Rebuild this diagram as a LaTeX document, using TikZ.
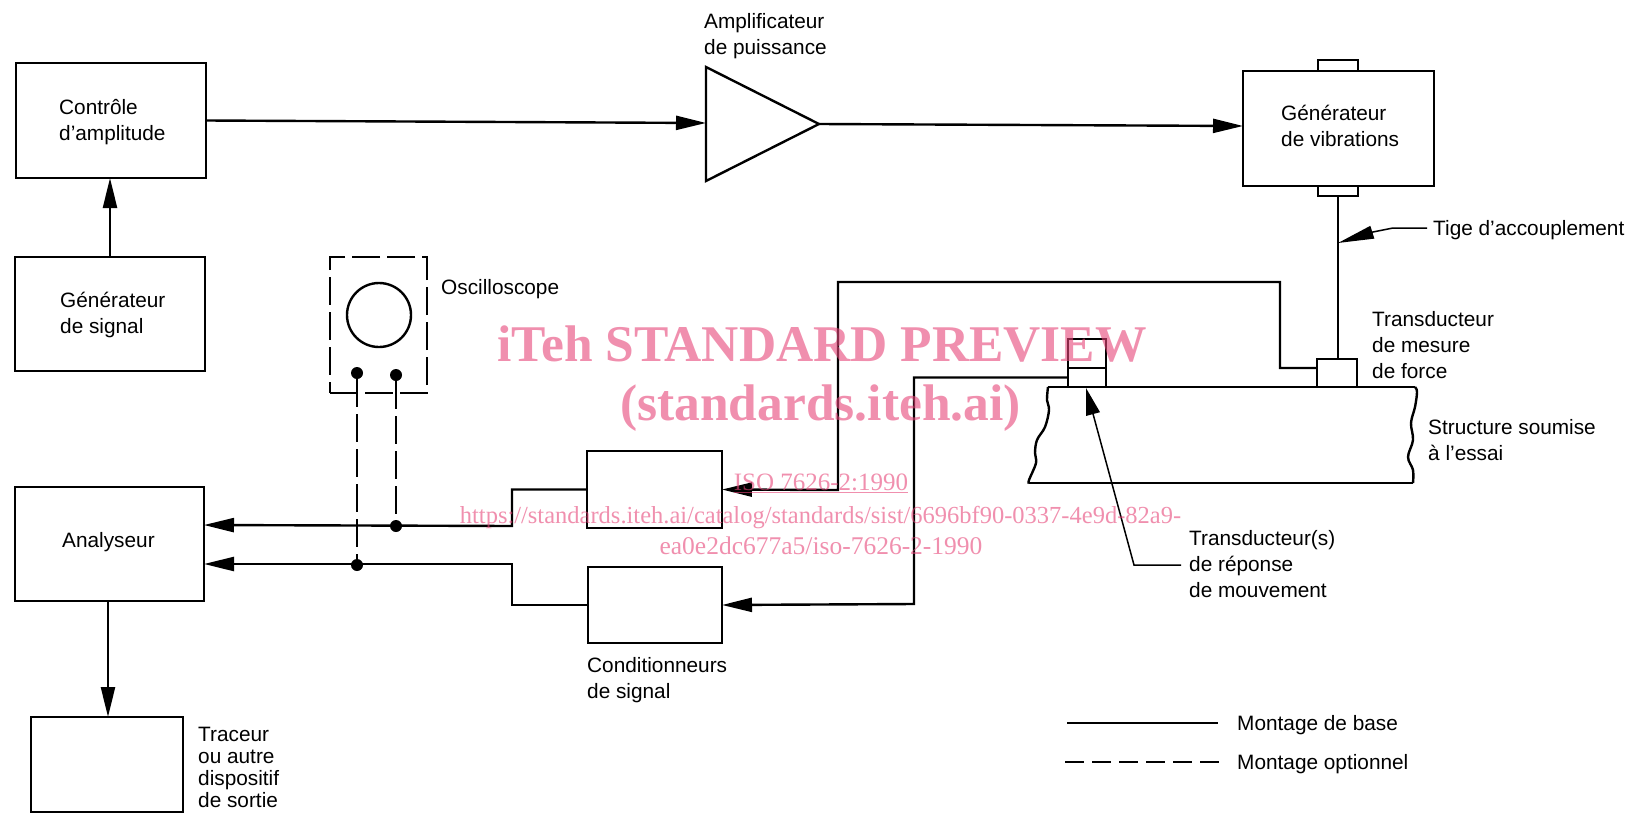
\documentclass[tikz,border=0pt]{standalone}
\usepackage{fontspec}
\setmainfont{Liberation Sans}
\newfontfamily\wmfont{Liberation Serif}
\usetikzlibrary{arrows.meta}
\definecolor{wmpink}{RGB}{230,69,120}
\tikzset{
  box/.style={draw,line width=2.4pt,rectangle,inner sep=0pt,outer sep=0pt},
  wire/.style={line width=2.4pt,line join=miter},
  arr/.style={wire,-{Triangle[length=30pt,width=14pt]}},
  leader/.style={line width=1.5pt},
  optwire/.style={line width=2.4pt,dash pattern=on 28pt off 7pt},
  lbl/.style={anchor=base west,inner sep=0pt,align=left,font=\fontsize{20.8}{25.6}\selectfont},
  lbltight/.style={anchor=base west,inner sep=0pt,align=left,font=\fontsize{20.8}{21.7}\selectfont},
  dotn/.style={circle,fill=black,inner sep=0pt,minimum size=12pt},
  wmbig/.style={anchor=base,inner sep=0pt,text=wmpink,text opacity=0.6,font=\wmfont\bfseries\fontsize{51.5}{51.5}\selectfont},
  wmsmall/.style={anchor=base,inner sep=0pt,text=wmpink,text opacity=0.6,font=\wmfont\fontsize{25}{25}\selectfont},
}
\begin{document}
\begin{tikzpicture}[x=1pt,y=-1pt]
\useasboundingbox (0,0) rectangle (1636,814);
% boxes
\node[box,minimum width=190pt,minimum height=115pt] (ctrl) at (111,120.5) {};
\node[box,minimum width=190pt,minimum height=114pt] (sig) at (110,314) {};
\node[box,minimum width=189pt,minimum height=114pt] (ana) at (109.5,544) {};
\node[box,minimum width=152pt,minimum height=95pt] (plot) at (107,764.5) {};
\node[box,minimum width=135pt,minimum height=77pt] (condA) at (654.5,489.5) {};
\node[box,minimum width=134pt,minimum height=76pt] (condB) at (655,605) {};
\node[box,minimum width=40pt,minimum height=11pt] (tabT) at (1338,65.5) {};
\node[box,minimum width=40pt,minimum height=10pt] (tabB) at (1338,191) {};
\node[box,minimum width=191pt,minimum height=115pt] (vib) at (1338.5,128.5) {};
\node[box,minimum width=40pt,minimum height=28pt] (force) at (1337,373) {};
\node[box,minimum width=38pt,minimum height=29pt] (motA) at (1087,353.5) {};
\node[box,minimum width=38pt,minimum height=19pt] (motB) at (1087,377.5) {};
\node[draw,line width=2.4pt,circle,inner sep=0pt,minimum size=64pt] (screen) at (379,315) {};
\node[draw,line width=2.4pt,dash pattern=on 28pt off 7pt,rectangle,inner sep=0pt,minimum width=97pt,minimum height=136pt] (osc) at (378.5,325) {};
% amplifier
\coordinate (ampT) at (706,67);
\coordinate (ampB) at (706,181);
\coordinate (ampO) at (819,124);
\coordinate (ampI) at (706,123);
\draw[line width=2.4pt,line join=miter] (ampT) -- (ampO) -- (ampB) -- cycle;
% structure
\coordinate (stL) at (1048,387);
\coordinate (stR) at (1415,387);
\draw[line width=2.4pt] (stL) -- (stR);
\draw[line width=2.4pt] plot[smooth,tension=0.6] coordinates {(1048,387) (1047,400) (1049,410) (1045,427) (1037,440) (1035,453) (1036,463) (1029,480) (1029,483)};
\draw[line width=2.4pt] (1029,483) -- (1413,483);
\draw[line width=2.4pt] plot[smooth,tension=0.6] coordinates {(1413,483) (1413,470) (1408,457) (1413,440) (1411,423) (1415,407) (1417,392) (1415,387)};
% labels (anchor is the last line's baseline)
\node[lbl] (tctrl) at (59,140) {Contrôle\\d’amplitude};
\node[lbl] (tsig) at (60,333) {Générateur\\de signal};
\node[lbl] (tana) at (62,547) {Analyseur};
\node[lbl] (tamp) at (704,54) {Amplificateur\\de puissance};
\node[lbl] (tvib) at (1281,146) {Générateur\\de vibrations};
\node[lbl] (ttige) at (1433,235) {Tige d’accouplement};
\node[lbl] (tforce) at (1372,378) {Transducteur\\de mesure\\de force};
\node[lbl] (tstruct) at (1428,460) {Structure soumise\\à l’essai};
\node[lbl] (tmot) at (1189,597) {Transducteur(s)\\de réponse\\de mouvement};
\node[lbl] (tcond) at (587,698) {Conditionneurs\\de signal};
\node[lbl] (tosc) at (441,294) {Oscilloscope};
\node[lbltight] (tplot) at (198,807) {Traceur\\ou autre\\dispositif\\de sortie};
\node[lbl] (tbase) at (1237,730) {Montage de base};
\node[lbl] (topt) at (1237,769) {Montage optionnel};
% main connectors
\coordinate (vibI) at (1243,126);
\coordinate (anaS) at (108,601);
\coordinate (plotN) at (108,717);
\draw[arr] (ctrl.east) -- (ampI);
\draw[arr] (ampO) -- (vibI);
\draw[arr] (sig.north) -- (sig.north |- ctrl.south);
\draw[arr] (anaS) -- (plotN);
\draw[wire] (tabB.south) -- (tabB.south |- force.north);
% signal wires
\coordinate (forceP) at (1317,368);
\coordinate (anaA) at (204,525);
\coordinate (anaB) at (204,564);
\node[dotn] (jA) at (396,526) {};
\node[dotn] (jB) at (357,565) {};
\node[dotn] (pA) at (396,375) {};
\node[dotn] (pB) at (357,373) {};
\draw[arr] (forceP) -- (1280,368) -- (1280,282) -- (838,282) -- (838,490) -- (condA.east);
\draw[arr] (motB.west) -- (914,377.5) -- (914,604) -- (condB.east);
\draw[arr] (condA.west) -- (512,489.5) -- (512,526) -- (anaA);
\draw[arr] (condB.west) -- (512,605) -- (512,564) -- (anaB);
\draw[optwire] (pA) -- (jA);
\draw[optwire] (pB) -- (jB);
% leaders
\coordinate (tigeEnd) at (1427,228);
\coordinate (tigeTip) at (1338,243);
\draw[leader,-{Triangle[length=36pt,width=13pt]}] (tigeEnd) -- (1393,228) -- (1373,232) -- (tigeTip);
\coordinate (motEnd) at (1181,565);
\coordinate (motTip) at (1086,388);
\draw[leader,-{Triangle[length=27pt,width=14pt]}] (motEnd) -- (1134,565) -- (motTip);
% legend
\coordinate (legA) at (1067,723);
\coordinate (legB) at (1218,723);
\coordinate (legC) at (1065,762);
\coordinate (legD) at (1222,762);
\draw[wire] (legA) -- (legB);
\draw[line width=2.4pt,dash pattern=on 19pt off 8pt] (legC) -- (legD);
% watermark
\node[wmbig] (wA) at (822,361) {iTeh STANDARD PREVIEW};
\node[wmbig] (wB) at (820.5,420) {(standards.iteh.ai)};
\node[wmsmall] (wC) at (821,490) {\underline{ISO 7626-2:1990}};
\node[wmsmall,font=\wmfont\fontsize{24.5}{25}\selectfont] (wD) at (820.5,523) {https://standards.iteh.ai/catalog/standards/sist/6696bf90-0337-4e9d-82a9-};
\node[wmsmall,font=\wmfont\fontsize{25.5}{25}\selectfont] (wE) at (821,554) {ea0e2dc677a5/iso-7626-2-1990};
\end{tikzpicture}
\end{document}
